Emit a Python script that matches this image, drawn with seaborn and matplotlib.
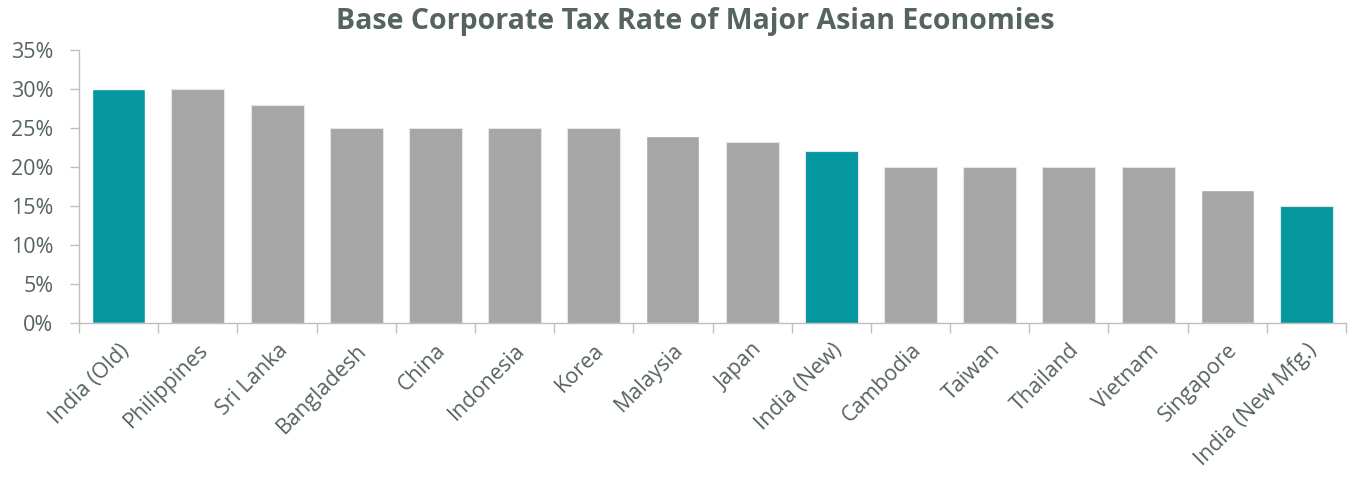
import seaborn as sns
import matplotlib.pyplot as plt
import pandas as pd
import numpy as np
from matplotlib.ticker import PercentFormatter

countries = ['India (Old)', 'Philippines', 'Sri Lanka', 'Bangladesh', 'China',
             'Indonesia', 'Korea', 'Malaysia', 'Japan', 'India (New)',
             'Cambodia', 'Taiwan', 'Thailand', 'Vietnam', 'Singapore',
             'India (New Mfg.)']
rates = [30, 30, 28, 25, 25, 25, 25, 24, 23.2, 22, 20, 20, 20, 20, 17, 15]
highlight = ['India (Old)', 'India (New)', 'India (New Mfg.)']

teal = '#0497A0'
grey = '#A6A6A6'
text_col = '#56645F'
axis_col = '#BFBFBF'

df = pd.DataFrame({'country': countries, 'rate': rates})
df['group'] = np.where(df['country'].isin(highlight), 'india', 'other')

sns.set_style('white')
plt.rcParams['font.family'] = ['Open Sans', 'DejaVu Sans']

fig = plt.figure(figsize=(13.48, 4.83), dpi=100)
ax = fig.add_axes([0.0587, 0.331, 0.9398, 0.5655])

sns.barplot(data=df, x='country', y='rate', hue='group',
            palette={'india': teal, 'other': grey}, dodge=False,
            width=0.67, legend=False, ax=ax, saturation=1)

for p, g in zip(ax.patches, df['group']):
    if g == 'other':
        p.set_edgecolor('#E6E6E6')
        p.set_linewidth(0.8)

ax.set_ylim(0, 35)
ax.set_xlim(-0.5, len(countries) - 0.5)
ax.set_yticks(range(0, 36, 5))
ax.yaxis.set_major_formatter(PercentFormatter(decimals=0))
ax.set_xlabel('')
ax.set_ylabel('')

ax.set_xticks(np.arange(len(countries)))
ax.set_xticklabels(countries, rotation=45, ha='right', rotation_mode='anchor')
ax.set_xticks(np.arange(-0.5, len(countries)), minor=True)
ax.tick_params(axis='x', which='major', length=0, pad=12, labelsize=15.5,
               labelcolor=text_col, bottom=True)
ax.tick_params(axis='x', which='minor', length=7, width=1, color=axis_col,
               direction='out', bottom=True)
ax.tick_params(axis='y', length=6.5, width=1, color=axis_col, direction='out',
               labelsize=15.5, labelcolor=text_col, left=True, pad=12)

for s in ['top', 'right']:
    ax.spines[s].set_visible(False)
for s in ['left', 'bottom']:
    ax.spines[s].set_color(axis_col)
    ax.spines[s].set_linewidth(1)

fig.suptitle('Base Corporate Tax Rate of Major Asian Economies', x=0.516, y=0.985,
             fontsize=20.5, fontweight='bold', color=text_col)

fig.savefig('out.png', dpi=100)
